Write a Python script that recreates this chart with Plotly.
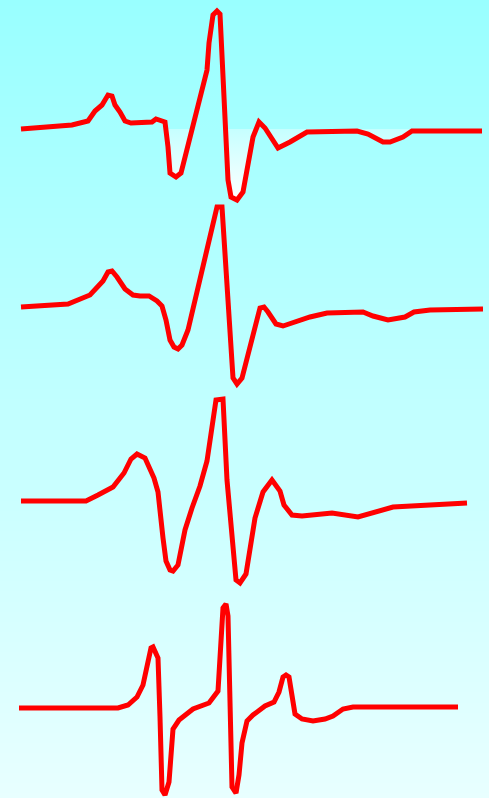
import plotly.graph_objects as go

# four ECG-like beats, x in px across, amplitude in px above each baseline
x1 = [21, 72, 88, 95, 102, 108, 112, 115, 120, 125, 131, 152, 156, 165, 168, 170, 176, 181, 207, 209, 213,
      217, 220, 228, 231, 237, 243, 253, 259, 265, 278, 290, 307, 333, 357, 368, 383, 390, 403, 412, 482]
amp1 = [0, 4, 8, 18, 24, 34, 33, 24, 17, 8, 6, 7, 10, 7, -18, -44, -48, -44, 59, 86, 114,
        118, 115, -51, -68, -71, -63, -8, 7, 1, -19, -13, -3, -2, -2, -5, -13, -13, -8, -2, -2]

x2 = [21, 68, 90, 97, 103, 108, 112, 117, 125, 133, 140, 149, 157, 162, 166, 170, 174, 178, 182, 188,
      217, 222, 227, 233, 237, 242, 260, 264, 268, 276, 283, 310, 327, 363, 373, 388, 405, 414, 430, 483]
amp2 = [0, 3, 12, 20, 26, 35, 36, 30, 18, 12, 11, 11, 6, 1, -13, -33, -40, -42, -38, -23,
        100, 100, 17, -71, -77, -71, -1, 0, -5, -17, -19, -10, -6, -5, -9, -13, -10, -5, -3, -2]

x3 = [21, 86, 98, 113, 124, 131, 137, 145, 154, 158, 163, 166, 170, 173, 178, 185, 192, 200, 207, 216,
      223, 227, 236, 240, 246, 255, 263, 272, 280, 284, 292, 302, 332, 358, 393, 467]
amp3 = [0, 0, 6, 14, 28, 42, 47, 43, 23, 9, -37, -60, -69, -70, -64, -29, -7, 15, 40, 101,
        102, 21, -79, -82, -73, -17, 9, 21, 10, -4, -14, -15, -12, -16, -6, -2]

x4 = [19, 118, 128, 137, 143, 147, 151, 153, 158, 160, 162, 165, 169, 173, 179, 193, 209, 218, 223, 226,
      228, 232, 236, 239, 242, 247, 253, 265, 274, 279, 283, 286, 289, 295, 302, 313, 325, 333, 343, 353, 458]
amp4 = [0, 0, 3, 11, 23, 41, 60, 61, 50, -9, -82, -87, -74, -21, -12, -1, 5, 17, 100, 104,
        92, -79, -85, -67, -35, -13, -7, 2, 6, 16, 31, 33, 31, -6, -11, -13, -11, -8, -1, 1, 1]

# layout: lane offsets (px below the first baseline)
W, H = 489, 798
top_base = 129
offsets = [0, -178, -372, -579]
RED = "#ff0000"
BG_TOP = (153, 255, 255)
BG_BOTTOM = (232, 255, 255)

x_range = [0, W]
y_range = [top_base - H, top_base]


def bg_at(y):
    # background colour at data height y (linear between bottom and top)
    t = (y - y_range[0]) / (y_range[1] - y_range[0])
    c = [round(b + (a - b) * t) for a, b in zip(BG_TOP, BG_BOTTOM)]
    return "#%02x%02x%02x" % tuple(c)


fig = go.Figure()

# gradient background as a smoothed 2x2 heatmap
fig.add_trace(go.Heatmap(
    x=x_range, y=y_range, z=[[0, 0], [1, 1]],
    colorscale=[[0, bg_at(y_range[0])], [1, bg_at(y_range[1])]],
    zsmooth="best", showscale=False, hoverinfo="skip",
))

# first beat: pale gradient between baseline and the dips,
# above the baseline the fill just repeats the background
lo, hi = min(amp1), max(amp1)
z = (0 - lo) / (hi - lo)
eps = 0.002
fig.add_trace(go.Scatter(
    x=x1, y=amp1, mode="lines", line=dict(width=0), fill="tozeroy",
    fillgradient=dict(type="vertical", start=lo, stop=hi,
                      colorscale=[[0, "#ffffff"], [z - eps, "#c6ffff"],
                                  [z + eps, bg_at(0)], [1, bg_at(hi)]]),
    hoverinfo="skip", showlegend=False,
))

for xs, amps, off in zip([x1, x2, x3, x4], [amp1, amp2, amp3, amp4], offsets):
    fig.add_trace(go.Scatter(
        x=xs, y=[a + off for a in amps], mode="lines",
        line=dict(color=RED, width=5),
        hoverinfo="skip", showlegend=False,
    ))

fig.update_layout(
    width=W, height=H,
    margin=dict(l=0, r=0, t=0, b=0),
    paper_bgcolor="#c0ffff",
    plot_bgcolor="rgba(0,0,0,0)",
    xaxis=dict(range=x_range, visible=False, fixedrange=True),
    yaxis=dict(range=y_range, visible=False, fixedrange=True),
)

fig.write_html("out.html", config={"displayModeBar": False},
               post_script="document.body.style.margin='0px';")
